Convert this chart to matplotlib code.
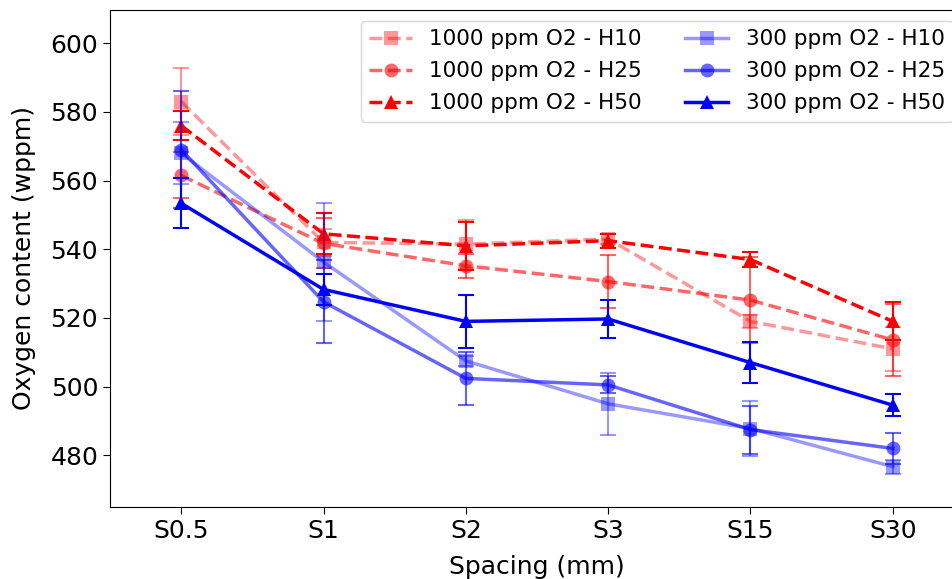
import matplotlib.pyplot as plt
import numpy as np

# Data
spacing = ["S0.5", "S1", "S2", "S3", "S15", "S30"]

o1000_h10 = [583.0, 542.0, 541.5, 543.0, 519.0, 511.0]
o1000_h10_err = [9.7, 4.0, 7.0, 1.5, 2.0, 6.4]
o1000_h25 = [561.5, 541.7, 535.2, 530.6, 525.2, 513.6]
o1000_h25_err = [6.7, 7.3, 3.5, 7.6, 12.6, 10.5]
o1000_h50 = [576.0, 544.5, 541.0, 542.5, 537.0, 519.0]
o1000_h50_err = [4.2, 6.0, 7.0, 2.0, 2.3, 5.5]

o300_h10 = [568.0, 536.3, 507.5, 495.0, 487.8, 476.7]
o300_h10_err = [9.0, 17.1, 1.5, 9.0, 8.0, 2.0]
o300_h25 = [569.0, 524.7, 502.4, 500.5, 487.5, 482.0]
o300_h25_err = [17.0, 12.1, 7.8, 2.5, 7.0, 4.4]
o300_h50 = [553.4, 528.3, 519.0, 519.7, 507.0, 494.6]
o300_h50_err = [7.3, 4.5, 7.7, 5.5, 6.0, 3.2]

x = np.arange(len(spacing))

series = [
    (o1000_h10, o1000_h10_err, "1000 ppm O2 - H10", "red", 0.4, "s", "--"),
    (o1000_h25, o1000_h25_err, "1000 ppm O2 - H25", "red", 0.6, "o", "--"),
    (o1000_h50, o1000_h50_err, "1000 ppm O2 - H50", "red", 1.0, "^", "--"),
    (o300_h10, o300_h10_err, "300 ppm O2 - H10", "blue", 0.4, "s", "-"),
    (o300_h25, o300_h25_err, "300 ppm O2 - H25", "blue", 0.6, "o", "-"),
    (o300_h50, o300_h50_err, "300 ppm O2 - H50", "blue", 1.0, "^", "-"),
]

fig = plt.figure(figsize=(9.52, 5.79), dpi=100)
ax = fig.add_axes([110 / 952, 1 - 507 / 579, 854 / 952, 497 / 579])

for vals, err, label, color, alpha, marker, ls in series:
    ax.plot(x, vals, ls=ls, marker=marker, color=color, alpha=alpha,
            lw=2.5, ms=10, mew=0, label=label)
    ax.errorbar(x, vals, yerr=err, fmt="none", ecolor=color, alpha=alpha,
                elinewidth=1.5, capsize=5.8, capthick=1.5)

ax.set_xticks(x)
ax.set_xticklabels(spacing)
ax.set_xlim(-0.5, 5.5)
ax.set_ylim(464.95, 609.67)
ax.set_yticks(np.arange(480, 601, 20))
ax.tick_params(labelsize=18, length=5)
ax.set_xlabel("Spacing (mm)", fontsize=18, labelpad=9)
ax.set_ylabel("Oxygen content (wppm)", fontsize=18, labelpad=10)
ax.legend(ncol=2, fontsize=15.5, loc="upper right", labelspacing=0.55)

fig.savefig("out.png", dpi=100)
